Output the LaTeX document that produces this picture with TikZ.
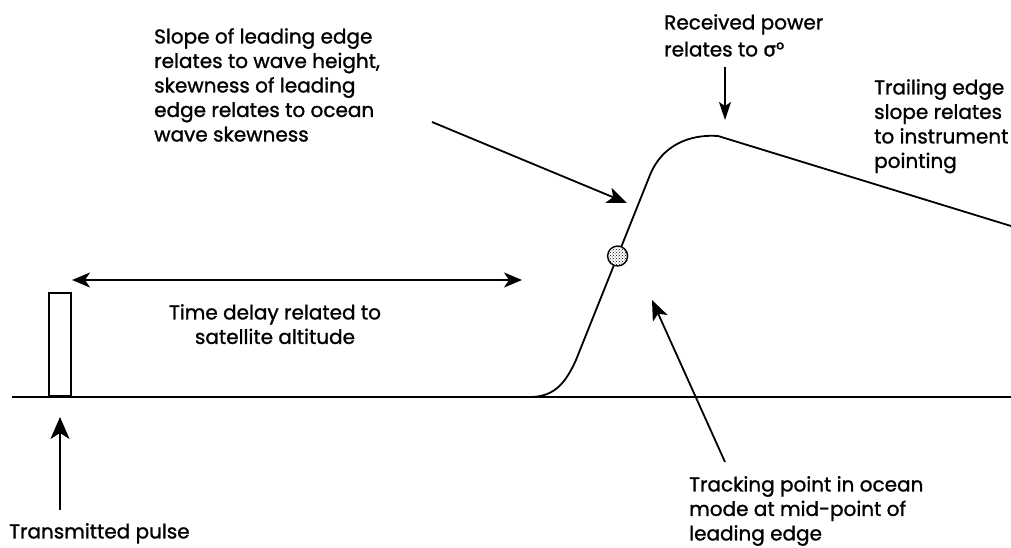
\documentclass[tikz,border=0pt]{standalone}
\usepackage{fontspec}
\setmainfont{Poppins}[FakeBold=1.2]
\newfontfamily\greekfont{DejaVu Sans}[FakeBold=1.2]
\usetikzlibrary{arrows.meta,positioning,calc,patterns}

\begin{document}
\begin{tikzpicture}[x=1pt, y=-1pt,
    note/.style={anchor=north west, inner sep=0pt, align=left, font=\fontsize{20}{24.5}\selectfont},
    arrow/.style={-{Stealth[length=20pt, width=16pt, inset=5pt]}, line width=1.8pt},
    echo/.style={line width=1.8pt, line join=round}]

\useasboundingbox (0,0) rectangle (1011,548);

% Time axis and transmitted pulse
\draw[echo] (12,397) -- (1011,397);
\node[draw, line width=1.6pt, minimum width=22pt, minimum height=103pt, inner sep=0pt, anchor=south west] (pulse) at (48,397) {};

% Returned echo waveform
\draw[echo] (530,397) .. controls (555,397) and (566,382) .. (576,360)
    -- (650,175) .. controls (662,145) and (690,134) .. (718,136)
    -- (1011,226);

% Tracking point on leading edge
\node[circle, draw, line width=1.4pt, minimum size=20pt, inner sep=0pt,
    preaction={fill=white}, pattern=crosshatch dots] (midpt) at (617.6,256) {};

% Texts
\node[note] (slope) at (154,28) {Slope of leading edge\\relates to wave height,\\skewness of leading\\edge relates to ocean\\wave skewness};
\node[note, font=\fontsize{20}{27}\selectfont] (power) at (664,14) {Received power\\relates to {\greekfont σ}°};
\node[note] (trail) at (874,79) {Trailing edge\\slope relates\\to instrument\\pointing};
\node[note] (track) at (689,476) {Tracking point in ocean\\mode at mid-point of\\leading edge};
\node[note] (xmit) at (9,523) {Transmitted pulse};
\node[note, anchor=north, align=center] (delay) at (275,304) {Time delay related to\\satellite altitude};

% Arrow end points
\coordinate (slopeTail) at (432,122);
\coordinate (slopeTip) at (627,203);
\coordinate (powerTail) at (725,67);
\coordinate (powerTip) at (725,120);
\coordinate (trackTail) at (725,462);
\coordinate (trackTip) at (652,300);
\coordinate (xmitTail) at (60,510);
\coordinate (xmitTip) at (60,417);
\coordinate (delayL) at (72,280);
\coordinate (delayR) at (522,280);

% Arrows
\draw[arrow] (slopeTail) -- (slopeTip);
\draw[arrow, -{Stealth[length=18pt, width=12pt, inset=4pt]}, line width=1.5pt] (powerTail) -- (powerTip);
\draw[arrow] (trackTail) -- (trackTip);
\draw[arrow, -{Stealth[length=22pt, width=19pt, inset=6pt]}] (xmitTail) -- (xmitTip);
\draw[arrow, {Stealth[length=18pt, width=15pt, inset=5pt]}-{Stealth[length=18pt, width=15pt, inset=5pt]}] (delayL) -- (delayR);

\end{tikzpicture}
\end{document}
